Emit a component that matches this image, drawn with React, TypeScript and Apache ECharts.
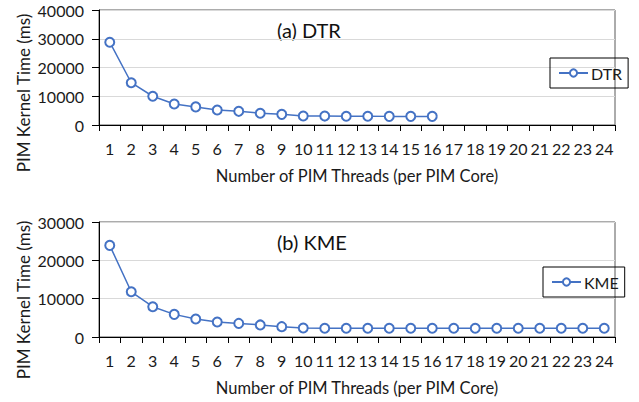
import React, { useEffect, useRef } from "react";
import * as echarts from "echarts";

const threads = Array.from({ length: 24 }, (_, i) => String(i + 1));
const dtrValues = [28800, 14700, 10000, 7300, 6300, 5200, 4750, 4100, 3700, 3150, 3100, 3050, 3050, 3000, 3000, 3000];
const kmeValues = [23900, 11800, 7900, 5900, 4700, 3900, 3550, 3150, 2700, 2350, 2300, 2300, 2300, 2300, 2300, 2300, 2300, 2300, 2300, 2300, 2300, 2300, 2300, 2300];
const dtrTicks = [0, 10000, 20000, 30000, 40000];
const kmeTicks = [0, 10000, 20000, 30000];

const FONT = "Lato";
const BLUE = "#4472C4";
const TXT = "#1a1a1a";

export default function App() {
  const ref = useRef<HTMLDivElement>(null);
  useEffect(() => {
    if (!ref.current) return;
    const chart = echarts.init(ref.current, null, { renderer: "svg" });
    const xAxisBase = (gridIndex: number) => ({
      type: "category" as const,
      gridIndex,
      data: threads,
      boundaryGap: true,
      axisLine: { show: true, lineStyle: { color: "#000", width: 1 } },
      axisTick: { show: true, length: 6, lineStyle: { color: "#000" }, interval: 0 },
      axisLabel: { interval: 0, color: TXT, fontSize: 16, fontFamily: FONT, margin: 15 },
      name: "Number of PIM Threads (per PIM Core)",
      nameLocation: "middle" as const,
      nameGap: 42,
      nameTextStyle: { color: TXT, fontSize: 16.5, fontFamily: FONT },
    });
    const yAxisBase = (gridIndex: number, max: number) => ({
      type: "value" as const,
      gridIndex,
      min: 0,
      max,
      interval: 10000,
      axisLine: { show: true, lineStyle: { color: "#000", width: 1 } },
      axisTick: { show: true, length: 7, lineStyle: { color: "#000" } },
      axisLabel: { color: TXT, fontSize: 16, fontFamily: FONT, margin: 15, formatter: (v: number) => String(v) },
      splitLine: { show: true, lineStyle: { color: "#d9d9d9", width: 1 } },
    });
    const legendBase = (name: string, left: number, top: number) => ({
      data: [name],
      left,
      top,
      orient: "vertical" as const,
      borderColor: "#000",
      borderWidth: 1,
      borderRadius: 0,
      padding: [7, 6, 7, 8],
      itemWidth: 29,
      itemHeight: 9,
      itemGap: 4,
      textStyle: { color: TXT, fontSize: 16, fontFamily: FONT, padding: [0, 0, 0, -2] },
    });
    chart.setOption({
      animation: false,
      grid: [
        { left: 99, top: 10, width: 516, height: 115, show: true, borderColor: "#595959", borderWidth: 1, backgroundColor: "transparent" },
        { left: 99, top: 222, width: 516, height: 115, show: true, borderColor: "#595959", borderWidth: 1, backgroundColor: "transparent" },
      ],
      xAxis: [xAxisBase(0), xAxisBase(1)],
      yAxis: [yAxisBase(0, dtrTicks[dtrTicks.length - 1]), yAxisBase(1, kmeTicks[kmeTicks.length - 1])],
      legend: [legendBase("DTR", 550, 58), legendBase("KME", 543, 267)],
      graphic: [
        { type: "text", x: 277, y: 30, style: { text: "(a) DTR", fontSize: 20, fontFamily: FONT, fill: "#111", verticalAlign: "middle" } },
        { type: "text", x: 277, y: 242, style: { text: "(b) KME", fontSize: 20, fontFamily: FONT, fill: "#111", verticalAlign: "middle" } },
        { type: "text", x: 23, y: 93, rotation: Math.PI / 2, style: { text: "PIM Kernel Time (ms)", fontSize: 17, fontFamily: FONT, fill: TXT, align: "center", verticalAlign: "middle" } },
        { type: "text", x: 23, y: 300, rotation: Math.PI / 2, style: { text: "PIM Kernel Time (ms)", fontSize: 17, fontFamily: FONT, fill: TXT, align: "center", verticalAlign: "middle" } },
      ],
      series: [
        {
          name: "DTR", type: "line", xAxisIndex: 0, yAxisIndex: 0, data: dtrValues,
          symbol: "emptyCircle", symbolSize: 9,
          lineStyle: { color: BLUE, width: 1.5 },
          itemStyle: { color: BLUE, borderColor: BLUE, borderWidth: 1.5 },
        },
        {
          name: "KME", type: "line", xAxisIndex: 1, yAxisIndex: 1, data: kmeValues,
          symbol: "emptyCircle", symbolSize: 9,
          lineStyle: { color: BLUE, width: 1.5 },
          itemStyle: { color: BLUE, borderColor: BLUE, borderWidth: 1.5 },
        },
      ],
    });
    return () => chart.dispose();
  }, []);
  return <div ref={ref} style={{ width: 639, height: 402, position: "absolute", left: 0, top: 0, background: "#fff" }} />;
}
